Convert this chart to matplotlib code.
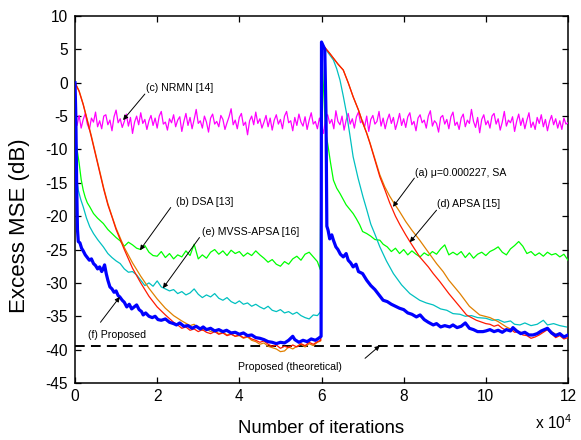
import numpy as np
import matplotlib
matplotlib.use('Agg')
import matplotlib.pyplot as plt

plt.rcParams['font.family'] = ['Liberation Sans', 'DejaVu Sans']
plt.rcParams['mathtext.fontset'] = 'custom'
plt.rcParams['mathtext.rm'] = 'Liberation Sans'

# ---------------- data (x in units of 1e4 iterations, y in dB) ----------------
# (c) NRMN [14]  -- sampled every 0.05
nrmn_step = 0.05
nrmn_y = [
    -5.2, -6.4, -4.9, -6.8, -5.5, -4.6, -6.2, -7.0, -5.3, -5.9, -4.4, -6.6, -5.7, -6.9, -5.0, -4.8, -6.3, -5.6, -7.2, -5.1,
    -4.1, -6.0, -5.4, -6.7, -5.8, -4.7, -6.5, -5.2, -7.6, -5.9, -5.0, -6.3, -4.5, -6.1, -5.5, -7.0, -5.7, -4.9, -6.4, -5.3,
    -6.8, -5.0, -4.3, -6.2, -5.9, -7.1, -5.4, -6.0, -4.8, -6.6, -5.6, -5.1, -7.3, -5.8, -4.6, -6.4, -5.2, -6.9, -5.5, -4.0,
    -6.1, -5.7, -6.8, -5.0, -5.9, -7.4, -5.3, -4.7, -6.2, -5.8, -6.6, -4.9, -5.5, -7.0, -6.0, -5.1, -3.9, -6.3, -5.6, -6.9,
    -5.2, -4.6, -6.4, -5.9, -7.8, -5.7, -5.0, -6.3, -4.4, -6.1, -5.4, -6.8, -5.9, -4.9, -6.6, -5.3, -7.1, -5.6, -4.8, -6.2,
    -5.5, -6.9, -5.0, -4.3, -6.0, -5.7, -7.2, -5.2, -6.4, -4.7, -5.9, -6.5, -5.1, -7.0, -5.6, -4.5, -6.2, -5.8, -6.9, -5.3,
    -6.4, -7.6, -5.2, -4.8, -6.1, -5.5, -6.9, -4.2, -5.8, -6.3, -5.0, -7.1, -5.6, -4.6, -6.2, -5.4, -6.8, -5.1, -4.4, -6.0,
    -5.7, -6.6, -5.0, -7.3, -5.5, -4.9, -6.2, -5.8, -4.3, -6.5, -5.3, -6.9, -5.6, -4.7, -6.1, -5.2, -7.0, -5.9, -4.6, -6.4,
    -5.4, -6.7, -5.1, -4.5, -6.3, -5.8, -7.2, -5.3, -4.8, -6.0, -5.6, -6.8, -5.0, -4.2, -6.5, -5.7, -6.1, -7.4, -5.2, -4.9,
    -6.2, -5.5, -6.9, -5.1, -4.4, -6.4, -5.9, -7.0, -5.3, -4.7, -6.6, -5.6, -6.1, -4.0, -5.8, -6.7, -5.2, -7.5, -5.5, -4.8,
    -6.3, -5.7, -6.8, -5.0, -4.6, -6.2, -5.4, -7.1, -5.9, -4.3, -6.5, -5.6, -6.0, -5.1, -7.3, -5.8, -4.7, -6.4, -5.3, -6.9,
    -5.6, -4.5, -6.7, -5.9, -7.0, -5.2, -6.1, -4.8, -6.6, -5.5, -7.2, -5.8, -4.9, -6.3, -5.4, -6.8, -5.7, -7.0, -5.3, -6.2,
    -6.0,
]

# (b) DSA [13]
dsa_x1 = [0, 0.05, 0.1, 0.15, 0.2, 0.25, 0.3, 0.36, 0.45, 0.55, 0.69, 0.8, 0.9, 1.0]
dsa_y1 = [-7.5, -10.0, -12.0, -14.5, -16.1, -17.2, -18.0, -18.6, -19.6, -20.3, -21.1, -22.0, -22.6, -23.2]
dsa_start2, dsa_step2 = 1.1, 0.1
dsa_y2 = [
    -23.7, -24.5, -23.9, -24.3, -24.8, -25.0, -24.4, -25.4, -25.9, -26.0,
    -25.3, -26.2, -25.6, -26.4, -25.8, -26.1, -25.2, -25.9, -24.2, -26.4,
    -25.8, -26.3, -25.4, -25.0, -25.7, -25.2, -25.9, -25.1, -25.6, -25.3,
    -26.0, -25.5, -25.9, -25.2, -25.8, -26.3, -26.9, -26.5, -27.2, -27.5,
    -26.8, -27.2, -26.4, -26.0, -26.6, -25.7, -25.4, -26.1, -26.8,
]
dsa_x3 = [5.97, 6.0, 6.04, 6.08, 6.12, 6.16, 6.22, 6.29, 6.37, 6.45, 6.6, 6.77, 6.85, 6.93, 7.0, 7.1, 7.2, 7.3, 7.42, 7.5, 7.6, 7.7, 7.8]
dsa_y3 = [-28.0, 5.8, 0.5, -5.0, -8.0, -9.5, -12.0, -14.6, -15.8, -16.6, -18.3, -19.6, -20.4, -21.3, -22.3, -22.6, -23.0, -23.5, -23.6, -24.2, -24.6, -25.3, -24.8]
dsa_start4, dsa_step4 = 7.9, 0.1
dsa_y4 = [
    -25.6, -25.0, -25.8, -25.2, -25.7, -26.1, -25.5, -25.9, -25.3, -25.7,
    -24.9, -24.3, -25.8, -25.4, -25.8, -25.3, -26.2, -25.5, -26.3, -25.7,
    -25.4, -25.9, -25.3, -25.0, -24.6, -25.4, -25.8, -24.9, -24.4, -23.8,
    -24.5, -25.6, -25.3, -25.9, -25.5, -26.0, -25.4, -25.8, -25.6, -26.1,
    -25.7, -26.6,
]

# (e) MVSS-APSA [16]
mv_x1 = [0, 0.05, 0.08, 0.14, 0.2, 0.28, 0.36, 0.45, 0.55, 0.69, 0.8, 0.9, 1.0]
mv_y1 = [-12.0, -14.5, -16.1, -17.5, -18.6, -20.3, -21.6, -22.6, -23.5, -24.6, -25.6, -26.2, -26.7]
mv_start2, mv_step2 = 1.1, 0.1
mv_y2 = [
    -27.1, -27.9, -28.4, -28.3, -28.8, -29.6, -30.4, -30.0, -30.5, -29.7,
    -30.6, -30.9, -31.2, -31.0, -31.6, -31.3, -31.8, -31.5, -30.9, -31.7,
    -32.2, -31.8, -32.1, -31.6, -32.3, -32.6, -32.2, -32.8, -33.1, -32.7,
    -33.2, -33.0, -33.5, -33.2, -33.6, -33.9, -33.5, -34.1, -34.3, -34.0,
    -34.5, -34.3, -34.7, -34.4, -34.9, -35.2, -35.4, -34.8, -34.9,
]
mv_x3 = [5.98, 6.0, 6.05, 6.15, 6.29, 6.37, 6.45, 6.53, 6.61, 6.69,
         6.77, 6.89, 7.01, 7.1, 7.2, 7.3, 7.42, 7.58, 7.75, 7.95,
         8.15, 8.39, 8.55, 8.72, 8.9, 9.05, 9.2, 9.37, 9.5, 9.65,
         9.8, 10.0, 10.15, 10.3, 10.45, 10.6, 10.7, 10.83, 10.95, 11.1,
         11.25, 11.4, 11.5, 11.65, 11.8, 11.96]
mv_y3 = [-34.3, 5.8, 5.4, 4.6, 3.4, 2.1, 0.4, -2.0, -4.6, -7.8,
         -11.1, -14.3, -17.1, -19.0, -21.2, -22.7, -24.6, -26.7, -28.6, -30.3,
         -31.6, -32.6, -33.0, -33.3, -33.9, -34.1, -34.6, -34.7, -35.0, -34.9,
         -35.2, -35.3, -35.6, -35.5, -35.9, -35.7, -36.2, -36.3, -36.0, -36.4,
         -36.2, -35.6, -36.3, -36.1, -36.4, -36.6]

# (d) APSA [15]
ap_x1 = [0, 0.1, 0.2, 0.3, 0.4, 0.5, 0.6, 0.7, 0.8, 0.9, 1.0, 1.2, 1.4, 1.6, 1.8, 2.0, 2.2, 2.4, 2.6, 2.8]
ap_y1 = [0, -1.2, -3.2, -5.6, -8.0, -10.6, -13.2, -15.8, -18.1, -20.0, -21.8, -24.7, -27.0, -29.0, -30.8, -32.4, -33.8, -34.9, -35.7, -36.4]
ap_start2, ap_step2 = 2.9, 0.1
ap_y2 = [
    -36.2, -36.8, -37.1, -36.9, -37.3, -37.1, -37.6, -37.4, -37.8, -37.6,
    -38.0, -37.9, -38.3, -38.1, -38.6, -38.8, -39.2, -39.0, -39.5, -39.7,
    -39.9, -40.3, -40.2, -39.6, -39.9, -39.5, -39.2, -39.6, -39.1, -39.4,
    -38.9,
]
ap_x3 = [5.98, 6.0, 6.04, 6.2, 6.4, 6.53, 6.65, 6.77, 6.9, 7.01,
         7.1, 7.18, 7.3, 7.42, 7.54, 7.66, 7.75, 7.9, 8.05, 8.2,
         8.39, 8.6, 8.8, 8.96, 9.1, 9.37, 9.6, 9.85, 10.1, 10.3, 10.5]
ap_y3 = [-38.7, 5.8, 5.6, 4.4, 2.8, 1.9, 0.0, -2.1, -4.1, -6.1,
         -7.5, -9.0, -11.4, -13.8, -15.6, -17.0, -17.9, -19.3, -20.8, -22.1,
         -23.6, -25.4, -27.1, -28.3, -29.6, -31.6, -33.5, -34.8, -35.2, -35.8, -36.6]
ap_start4, ap_step4 = 10.6, 0.1
ap_y4 = [-36.9, -37.1, -37.3, -37.5, -37.7, -37.9, -37.8, -37.6, -37.2, -36.9, -37.3, -37.7, -37.6, -38.0, -37.9]

# (a) SA, mu = 0.000227
sa_x1 = [0, 0.1, 0.2, 0.3, 0.4, 0.5, 0.6, 0.7, 0.8, 0.9, 1.0, 1.2, 1.4, 1.6, 1.8, 2.0, 2.2, 2.4]
sa_y1 = [0, -1.3, -3.3, -5.7, -8.2, -10.8, -13.4, -16.0, -18.3, -20.1, -22.0, -25.0, -27.8, -30.0, -32.0, -33.6, -34.8, -35.9]
sa_start2, sa_step2 = 2.5, 0.1
sa_y2 = [
    -36.3, -36.8, -36.6, -37.1, -36.9, -37.3, -37.0, -37.4, -37.6, -37.3,
    -37.7, -37.5, -37.9, -37.7, -38.0, -37.8, -38.2, -38.0, -38.4, -38.6,
    -38.9, -38.7, -39.2, -39.5, -39.3, -39.8, -39.5, -39.7, -39.3, -39.6,
    -39.1, -39.4, -38.9, -39.2, -38.8,
]
sa_x3 = [5.98, 6.0, 6.04, 6.2, 6.4, 6.53, 6.65, 6.77, 6.9, 7.01,
         7.1, 7.18, 7.3, 7.42, 7.54, 7.66, 7.8, 7.91, 8.05, 8.15,
         8.39, 8.6, 8.72, 8.88, 9.1, 9.37, 9.53, 9.77, 10.0]
sa_y3 = [-38.6, 5.8, 5.6, 4.4, 2.8, 1.9, 0.0, -2.1, -4.1, -6.1,
         -7.6, -9.1, -11.6, -14.1, -16.0, -18.0, -20.0, -21.3, -22.8, -23.8,
         -26.1, -27.6, -28.6, -29.8, -31.6, -33.6, -34.8, -35.6, -36.1]
sa_start4, sa_step4 = 10.1, 0.1
sa_y4 = [-36.2, -36.5, -36.3, -36.8, -37.1, -36.9, -37.4, -37.3, -37.8, -37.9,
         -38.3, -38.1, -37.8, -37.4, -37.0, -37.6, -38.2, -37.9, -38.4, -38.2]

# (f) Proposed
pr_x1 = [0, 0.02, 0.04, 0.06, 0.08, 0.12, 0.16, 0.2, 0.25, 0.3,
         0.35, 0.4, 0.45, 0.5, 0.55, 0.6, 0.65, 0.69, 0.72, 0.76,
         0.8, 0.85, 0.9, 0.95, 1.0, 1.05, 1.09, 1.15, 1.2, 1.26,
         1.32, 1.38, 1.44, 1.5, 1.56, 1.62, 1.66, 1.72, 1.8, 1.88,
         1.95, 2.02, 2.1, 2.2, 2.3, 2.4, 2.47, 2.55, 2.65, 2.75,
         2.85, 2.95, 3.05, 3.12, 3.2, 3.3, 3.4, 3.5, 3.6, 3.69,
         3.8, 3.9, 4.0, 4.1, 4.2, 4.3, 4.4, 4.5, 4.6, 4.7,
         4.8, 4.9, 5.0, 5.1, 5.2, 5.3, 5.35, 5.45, 5.55, 5.65,
         5.75, 5.85, 5.93, 5.99]
pr_y1 = [0, -5, -15, -22, -23.8, -24.0, -24.8, -25.2, -25.8, -26.2,
         -26.6, -26.4, -27.1, -27.4, -27.9, -27.6, -28.3, -27.8, -27.3, -28.6,
         -29.6, -30.6, -30.9, -31.4, -31.2, -31.9, -32.1, -32.6, -32.9, -33.6,
         -33.2, -33.9, -33.6, -33.3, -34.0, -34.3, -34.8, -34.5, -35.0, -35.2,
         -35.0, -35.5, -35.6, -35.4, -35.9, -36.1, -36.3, -36.0, -36.5, -36.4,
         -36.8, -36.5, -36.9, -36.6, -37.0, -36.8, -37.2, -37.0, -37.3, -37.1,
         -37.5, -37.4, -37.7, -37.5, -37.9, -37.8, -38.2, -38.3, -38.5, -38.8,
         -38.9, -39.1, -38.9, -39.0, -38.6, -38.0, -38.5, -38.9, -38.6, -38.8,
         -38.4, -38.6, -38.3, -38.0]
pr_x2 = [6.0, 6.08, 6.11, 6.13, 6.16, 6.2, 6.25, 6.29, 6.35, 6.4,
         6.46, 6.53, 6.6, 6.65, 6.71, 6.77, 6.84, 6.9, 7.0, 7.1,
         7.2, 7.3, 7.4, 7.5, 7.6, 7.7, 7.8, 7.9, 8.0, 8.1,
         8.2, 8.31, 8.4, 8.5, 8.6, 8.72, 8.8, 8.9, 9.0, 9.12,
         9.2, 9.3, 9.4, 9.5, 9.6, 9.7, 9.8, 9.93, 10.0, 10.1,
         10.2, 10.3, 10.4, 10.5, 10.6, 10.66, 10.75, 10.85, 10.95, 11.05,
         11.15, 11.25, 11.35, 11.5, 11.6, 11.7, 11.8, 11.9, 12.0]
pr_y2 = [6.1, 5.0, -5.0, -21.5, -22.1, -23.4, -22.8, -23.6, -24.6, -25.0,
         -25.7, -26.1, -25.6, -26.6, -27.0, -27.6, -27.2, -28.3, -28.6, -29.6,
         -30.4, -31.0, -31.8, -32.6, -32.8, -33.2, -33.5, -33.8, -34.0, -34.5,
         -34.7, -35.1, -34.8, -35.5, -35.9, -36.3, -36.1, -36.6, -36.4, -36.6,
         -36.3, -36.7, -36.5, -36.0, -36.8, -37.0, -37.3, -37.3, -37.2, -37.0,
         -37.3, -37.1, -37.4, -37.0, -37.2, -36.7, -37.2, -37.6, -37.4, -37.8,
         -37.8, -37.6, -37.2, -36.8, -37.5, -37.9, -37.6, -38.1, -37.8]

theory_level = -39.5

x_ticks = [0, 2, 4, 6, 8, 10, 12]
y_ticks = [-45, -40, -35, -30, -25, -20, -15, -10, -5, 0, 5, 10]


def uniform(start, step, ys):
    return start + step * np.arange(len(ys))


def join(*parts):
    xs, ys = [], []
    for px, py in parts:
        xs.extend(list(px))
        ys.extend(list(py))
    return np.array(xs), np.array(ys)


nrmn = (uniform(0.0, nrmn_step, nrmn_y), np.array(nrmn_y))
dsa = join((dsa_x1, dsa_y1), (uniform(dsa_start2, dsa_step2, dsa_y2), dsa_y2),
           (dsa_x3, dsa_y3), (uniform(dsa_start4, dsa_step4, dsa_y4), dsa_y4))
mv = join((mv_x1, mv_y1), (uniform(mv_start2, mv_step2, mv_y2), mv_y2), (mv_x3, mv_y3))
ap = join((ap_x1, ap_y1), (uniform(ap_start2, ap_step2, ap_y2), ap_y2),
          (ap_x3, ap_y3), (uniform(ap_start4, ap_step4, ap_y4), ap_y4))
sa = join((sa_x1, sa_y1), (uniform(sa_start2, sa_step2, sa_y2), sa_y2),
          (sa_x3, sa_y3), (uniform(sa_start4, sa_step4, sa_y4), sa_y4))
pr = join((pr_x1, pr_y1), (pr_x2, pr_y2))

# ---------------- figure ----------------
fig = plt.figure(figsize=(5.81, 4.40), dpi=100)
ax = fig.add_axes([75 / 581, 57 / 440, 493 / 581, 367 / 440])

ax.axhline(theory_level, color='black', lw=1.4, ls=(0, (5, 3.2)), zorder=2)
ax.plot(*nrmn, color='#ff00ff', lw=0.9, zorder=3)
ax.plot(*dsa, color='#00ff00', lw=0.9, zorder=4)
ax.plot(*mv, color='#00c0c0', lw=0.9, zorder=5)
ax.plot(*ap, color='#e08000', lw=0.9, zorder=6)
ax.plot(*sa, color='#ff1a00', lw=0.9, zorder=7)
ax.plot(*pr, color='#0000ff', lw=2.3, zorder=8)

ax.set_xlim(0, 12)
ax.set_ylim(-45, 10)
ax.set_xticks(x_ticks)
ax.set_yticks(y_ticks)
ax.set_xticklabels([str(v) for v in x_ticks])
ax.set_yticklabels([str(v) for v in y_ticks])
ax.tick_params(direction='in', top=True, right=True, length=4, width=0.9, labelsize=11.2)
ax.tick_params(axis='x', pad=4.5)
ax.tick_params(axis='y', pad=5)
for s in ax.spines.values():
    s.set_linewidth(1.1)

ax.set_xlabel('Number of iterations', fontsize=13.3)
ax.xaxis.set_label_coords(0.5, -0.102)
ax.set_ylabel('Excess MSE (dB)', fontsize=16)
ax.yaxis.set_label_coords(-0.092, 0.43)
fig.text(535 / 581, 1 - 429 / 440, r'x 10$^{\mathregular{4}}$', fontsize=11.2, ha='left', va='baseline')

arrow_kw = dict(arrowstyle='-|>', color='black', lw=0.7, mutation_scale=7, shrinkA=0, shrinkB=0)
fs = 7.6
notes = [
    ('(c) NRMN [14]', (1.72, -0.8), (1.70, -1.7), (1.17, -5.6)),
    ('(b) DSA [13]', (2.45, -17.9), (2.33, -18.7), (1.58, -25.1)),
    ('(e) MVSS-APSA [16]', (3.08, -22.4), (3.03, -23.2), (2.14, -30.8)),
    ('(f) Proposed', (0.32, -37.8), (0.62, -35.9), (1.09, -32.1)),
    ('(a) \u03bc=0.000227, SA', (8.28, -13.5), (8.26, -14.3), (7.74, -18.6)),
    ('(d) APSA [15]', (8.82, -18.2), (8.80, -19.1), (8.15, -23.9)),
    ('Proposed (theoretical)', (3.97, -42.6), (7.06, -41.3), (7.42, -39.4)),
]
for label, tpos, tail, head in notes:
    ax.text(tpos[0], tpos[1], label, fontsize=fs, ha='left', va='center', zorder=10)
    ax.annotate('', xy=head, xytext=tail, arrowprops=arrow_kw, zorder=10)

fig.savefig('out.png', dpi=100)
